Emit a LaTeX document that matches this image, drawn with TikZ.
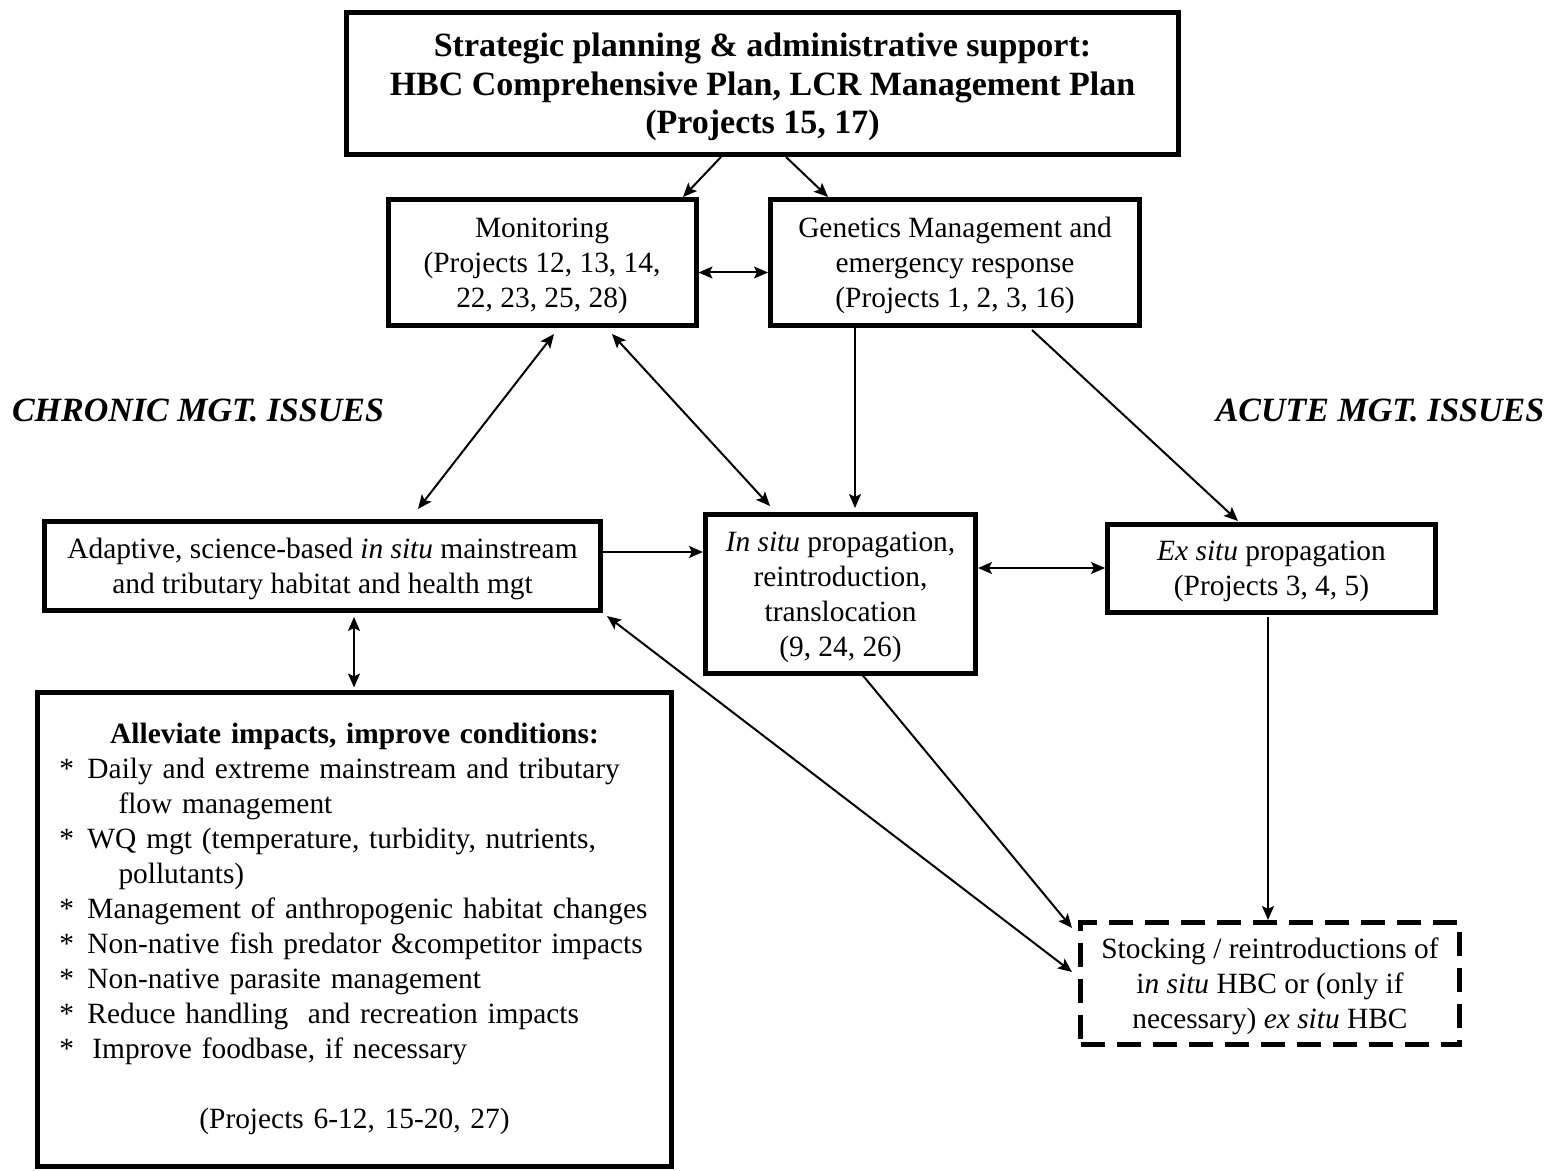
\documentclass[tikz,border=0pt]{standalone}
\usepackage{fontspec}
\setmainfont{Liberation Serif}
\usetikzlibrary{arrows.meta,calc}
\begin{document}
\begin{tikzpicture}[x=0.5pt,y=-0.5pt,
  box/.style={draw,line width=2.5pt,align=center,inner sep=0pt,font=\fontsize{14.7}{17.5}\selectfont,
    text depth=-8pt},
  tip/.tip={Stealth[length=7pt,width=6pt,inset=1.5pt]},
  arr/.style={line width=1pt,-tip},
  darr/.style={line width=1pt,tip-tip},
  lbl/.style={inner sep=0pt,font=\fontsize{17}{20}\selectfont\bfseries\itshape}]
\useasboundingbox (0,0) rectangle (1562,1171);

\node[box,minimum width=416pt,minimum height=71pt,font=\fontsize{17}{19.3}\selectfont\bfseries,
  text depth=-13pt] (top) at (762.5,83.5)
  {Strategic planning \& administrative support:\\HBC Comprehensive Plan, LCR Management Plan\\(Projects 15, 17)};
\node[box,minimum width=154pt,minimum height=63pt] (mon) at (542,262.5)
  {Monitoring\\(Projects 12, 13, 14,\\22, 23, 25, 28)};
\node[box,minimum width=184.5pt,minimum height=63pt] (gen) at (955,262.5)
  {Genetics Management and\\emergency response\\(Projects 1, 2, 3, 16)};
\node[box,minimum width=278pt,minimum height=44.5pt] (adp) at (322.5,566)
  {Adaptive, science-based \textit{in situ} mainstream\\and tributary habitat and health mgt};
\node[box,minimum width=135pt,minimum height=79.5pt,text depth=-11pt] (ins) at (840.5,594)
  {\textit{In situ} propagation,\\reintroduction,\\translocation\\(9, 24, 26)};
\node[box,minimum width=164pt,minimum height=44pt,text depth=-4pt] (exs) at (1271.5,568.5)
  {\textit{Ex situ} propagation\\(Projects 3, 4, 5)};
\node[draw,line width=2.5pt,inner sep=0pt,font=\fontsize{14.7}{17.5}\selectfont,
  minimum width=317pt,minimum height=237pt,text width=300pt,align=left] (all) at (354.5,929)
  {\makebox[300pt][c]{\bfseries Alleviate impacts, improve conditions:}\\
   \makebox[16.5pt][l]{\,*}Daily and extreme mainstream and tributary\\
   \hspace*{32pt}flow management\\
   \makebox[16.5pt][l]{\,*}WQ mgt (temperature, turbidity, nutrients,\\
   \hspace*{32pt}pollutants)\\
   \makebox[16.5pt][l]{\,*}Management of anthropogenic habitat changes\\
   \makebox[16.5pt][l]{\,*}Non-native fish predator \&competitor impacts\\
   \makebox[16.5pt][l]{\,*}Non-native parasite management\\
   \makebox[16.5pt][l]{\,*}Reduce handling\ \ and recreation impacts\\
   \makebox[16.5pt][l]{\,*}\,Improve foodbase, if necessary\\[17.5pt]
   \makebox[300pt][c]{(Projects 6-12, 15-20, 27)}};
\node[box,dashed,dash pattern=on 12pt off 6pt,minimum width=189.5pt,minimum height=61pt,
  text depth=-4pt] (stk) at (1270,983.5)
  {Stocking / reintroductions of\\i\textit{n situ} HBC or (only if\\necessary) \textit{ex situ} HBC};

\node[lbl] (chr) at (198,410) {CHRONIC MGT. ISSUES};
\node[lbl] (acu) at (1380,410) {ACUTE MGT. ISSUES};

\draw[arr] ($(top.south)+(-41.5,0)$) -- ($(mon.north)+(141,0)$);
\draw[arr] ($(top.south)+(23.5,0)$) -- ($(gen.north)+(-127,0)$);
\draw[darr] ($(mon.east)+(0,10)$) -- ($(gen.west)+(0,10)$);
\draw[darr] ($(mon.south)+(12,6)$) -- ($(adp.north)+(95.5,-10)$);
\draw[darr] ($(mon.south)+(70,6)$) -- ($(ins.north)+(-70.5,-6)$);
\draw[arr] ($(gen.south)+(-100,0)$) -- ($(ins.north)+(14.5,-4)$);
\draw[arr] ($(gen.south)+(77,2)$) -- ($(exs.north)+(-33.5,-1)$);
\draw[arr] ($(adp.east)+(0,-14)$) -- ($(ins.west)+(0,-42)$);
\draw[darr] ($(ins.east)+(0,-26)$) -- ($(exs.west)+(0,-0.5)$);
\draw[darr] ($(adp.south)+(31.5,4)$) -- ($(all.north)+(-0.5,-2)$);
\draw[darr] ($(adp.south east)+(4,3)$) -- ($(stk.west)+(-6,-11.5)$);
\draw[arr] ($(ins.south)+(19.5,-4)$) -- ($(stk.north west)+(-6,8)$);
\draw[arr] ($(exs.south)+(-3.5,2)$) -- ($(stk.north)+(-2,0)$);
\end{tikzpicture}
\end{document}
